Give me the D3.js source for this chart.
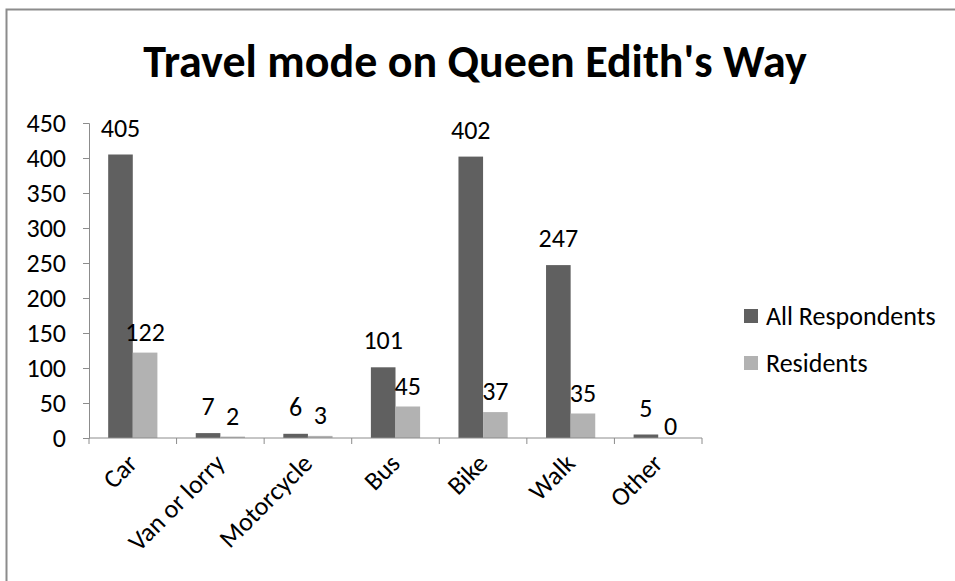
<!DOCTYPE html>
<html>
<head>
<meta charset="utf-8">
<script src="https://cdn.jsdelivr.net/npm/d3@7"></script>
<style>
  body { margin: 0; background: #fff; }
  text { font-family: Carlito, Calibri, Lato, sans-serif; fill: #000; }
</style>
</head>
<body>
<script>
var width = 955
var height = 581

var categories = ["Car", "Van or lorry", "Motorcycle", "Bus", "Bike", "Walk", "Other"]
var seriesNames = ["All Respondents", "Residents"]
var allRespondents = [405, 7, 6, 101, 402, 247, 5]
var residents = [122, 2, 3, 45, 37, 35, 0]
var yTicks = [0, 50, 100, 150, 200, 250, 300, 350, 400, 450]

var colors = ["#606060", "#b2b2b2"]
var fontSize = "26px"

var rows = categories.map(function(c, i) {
    return {cat: c, values: [allRespondents[i], residents[i]]}
})

var svg = d3.select("body")
    .append("svg")
        .attr("width", width)
        .attr("height", height)

// chart border
svg.append("rect")
    .attr("x", 6.5)
    .attr("y", 9.5)
    .attr("width", 960)
    .attr("height", 600)
    .attr("fill", "none")
    .attr("stroke", "#8c8c8c")
    .attr("stroke-width", 2)

var plotLeft = 89, plotRight = 702, plotTop = 123, plotBottom = 438

var x = d3.scaleBand()
    .domain(categories)
    .range([plotLeft, plotRight])
    .paddingInner(0.438)
    .paddingOuter(0.219)

var xs = d3.scaleBand()
    .domain([0, 1])
    .range([0, x.bandwidth()])

var y = d3.scaleLinear()
    .domain([0, 450])
    .range([plotBottom, plotTop])

// title
svg.append("text")
    .attr("x", 475)
    .attr("y", 77)
    .attr("text-anchor", "middle")
    .style("font-size", "46px")
    .style("font-weight", "bold")
    .text("Travel mode on Queen Edith's Way")

// bars
var groups = svg.selectAll("g.cat")
    .data(rows)
    .enter()
    .append("g")
        .attr("class", "cat")
        .attr("transform", function(d) { return "translate(" + x(d.cat) + ",0)" })

groups.selectAll("rect")
    .data(function(d) { return d.values })
    .enter()
    .append("rect")
        .attr("x", function(d, i) { return xs(i) })
        .attr("y", function(d) { return y(d) })
        .attr("width", xs.bandwidth())
        .attr("height", function(d) { return y(0) - y(d) })
        .attr("fill", function(d, i) { return colors[i] })

groups.selectAll("text.val")
    .data(function(d) { return d.values })
    .enter()
    .append("text")
        .attr("class", "val")
        .attr("x", function(d, i) { return xs(i) + xs.bandwidth() / 2 })
        .attr("y", function(d, i) { return y(d) - (d == 0 ? 3 : (i == 0 ? 18 : 12)) })
        .attr("text-anchor", "middle")
        .style("font-size", fontSize)
        .text(function(d) { return d })

// y axis
var yAxis = svg.append("g")
    .attr("transform", "translate(" + plotLeft + ",0)")
    .call(d3.axisLeft(y).tickValues(yTicks).tickSize(6).tickPadding(17))
yAxis.selectAll("text")
    .style("font-size", fontSize)
    .style("font-family", "Carlito, Calibri, Lato, sans-serif")
    .attr("fill", "#000")
yAxis.selectAll("line, path").attr("stroke", "#8c8c8c")

// x axis: ticks at category boundaries
var xLine = svg.append("g")
xLine.append("line")
    .attr("x1", plotLeft).attr("x2", plotRight)
    .attr("y1", plotBottom).attr("y2", plotBottom)
    .attr("stroke", "#8c8c8c")
xLine.selectAll("line.tick")
    .data(d3.range(categories.length + 1))
    .enter()
    .append("line")
        .attr("class", "tick")
        .attr("x1", function(i) { return plotLeft + i * x.step() })
        .attr("x2", function(i) { return plotLeft + i * x.step() })
        .attr("y1", plotBottom)
        .attr("y2", plotBottom + 6)
        .attr("stroke", "#8c8c8c")

svg.selectAll("text.xlab")
    .data(categories)
    .enter()
    .append("text")
        .attr("class", "xlab")
        .attr("text-anchor", "end")
        .attr("transform", function(d) {
            var cx = x(d) + x.bandwidth() / 2 + 6
            return "translate(" + cx + "," + (plotBottom + 27) + ") rotate(-45)"
        })
        .style("font-size", fontSize)
        .text(function(d) { return d })

// legend
var legend = svg.selectAll("g.leg")
    .data(seriesNames)
    .enter()
    .append("g")
        .attr("class", "leg")
        .attr("transform", function(d, i) { return "translate(744," + (309 + i * 47) + ")" })
legend.append("rect")
    .attr("width", 14)
    .attr("height", 14)
    .attr("fill", function(d, i) { return colors[i] })
legend.append("text")
    .attr("x", 22)
    .attr("y", 16)
    .style("font-size", fontSize)
    .text(function(d) { return d })
</script>
</body>
</html>
